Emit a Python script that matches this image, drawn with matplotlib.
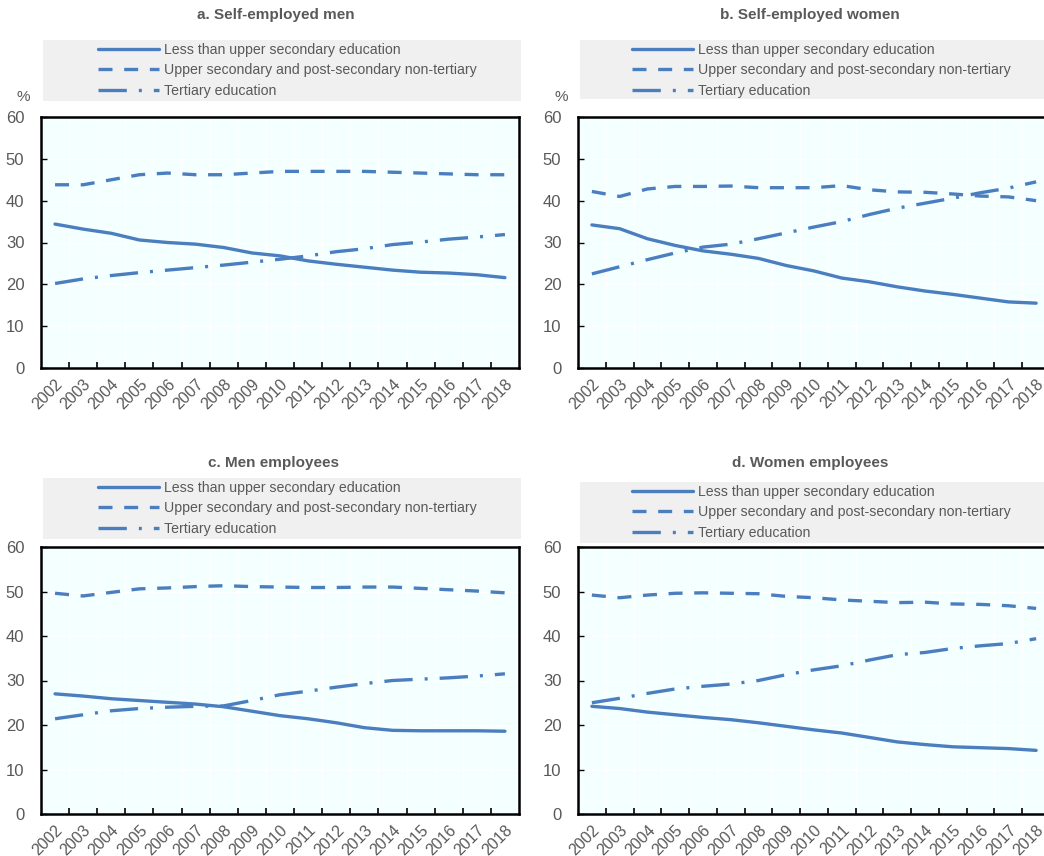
import numpy as np
import matplotlib
matplotlib.use("Agg")
import matplotlib.pyplot as plt

plt.rcParams["font.family"] = ["Liberation Sans", "DejaVu Sans"]

YEARS = [str(y) for y in range(2002, 2019)]

SERIES_LABELS = [
  "Less than upper secondary education",
  "Upper secondary and post-secondary non-tertiary",
  "Tertiary education",
]

# a. Self-employed men
SE_MEN_LOW = [34.4, 33.2, 32.2, 30.6, 30.0, 29.6, 28.8, 27.5, 26.8, 25.6, 24.8, 24.1, 23.4, 22.9, 22.7, 22.3, 21.6]
SE_MEN_MID = [43.8, 43.8, 45.0, 46.2, 46.6, 46.2, 46.2, 46.6, 47.0, 47.0, 47.0, 47.0, 46.8, 46.6, 46.4, 46.2, 46.2]
SE_MEN_TER = [20.2, 21.3, 22.1, 22.8, 23.4, 24.0, 24.6, 25.3, 26.0, 26.8, 27.8, 28.5, 29.5, 30.1, 30.8, 31.3, 31.9]

# b. Self-employed women
SE_WOMEN_LOW = [34.2, 33.3, 30.9, 29.3, 28.0, 27.2, 26.2, 24.5, 23.2, 21.5, 20.6, 19.4, 18.4, 17.6, 16.7, 15.8, 15.5]
SE_WOMEN_MID = [42.2, 41.0, 42.8, 43.4, 43.4, 43.5, 43.1, 43.1, 43.1, 43.6, 42.6, 42.1, 42.0, 41.6, 41.1, 40.9, 40.0]
SE_WOMEN_TER = [22.5, 24.2, 25.9, 27.5, 28.9, 29.6, 30.9, 32.3, 33.7, 35.0, 36.7, 38.2, 39.4, 40.6, 41.9, 43.0, 44.5]

# c. Men employees
EMP_MEN_LOW = [27.0, 26.5, 25.9, 25.5, 25.1, 24.7, 24.1, 23.1, 22.1, 21.4, 20.5, 19.4, 18.8, 18.7, 18.7, 18.7, 18.6]
EMP_MEN_MID = [49.6, 49.0, 49.8, 50.6, 50.8, 51.1, 51.3, 51.1, 51.0, 50.9, 50.9, 51.0, 51.0, 50.7, 50.4, 50.1, 49.7]
EMP_MEN_TER = [21.4, 22.3, 23.2, 23.7, 24.0, 24.2, 24.3, 25.5, 26.8, 27.6, 28.5, 29.3, 30.0, 30.3, 30.6, 31.0, 31.5]

# d. Women employees
EMP_WOMEN_LOW = [24.2, 23.7, 22.9, 22.3, 21.7, 21.2, 20.5, 19.7, 18.9, 18.2, 17.2, 16.2, 15.6, 15.1, 14.9, 14.7, 14.3]
EMP_WOMEN_MID = [49.2, 48.6, 49.2, 49.6, 49.7, 49.6, 49.5, 48.9, 48.6, 48.1, 47.8, 47.5, 47.6, 47.2, 47.1, 46.8, 46.2]
EMP_WOMEN_TER = [25.0, 26.0, 27.1, 28.1, 28.7, 29.2, 30.0, 31.3, 32.4, 33.3, 34.6, 35.8, 36.3, 37.2, 37.8, 38.3, 39.4]

LINE_COLOR = "#4A7EBF"
PLOT_BG = "#F4FFFF"
LEGEND_BG = "#F0F0F0"
TEXT_GRAY = "#595959"
LINE_WIDTH = 2.4
STYLES = ["-", (0, (4.2, 3.5)), (0, (8.5, 3.6, 0.9, 3.6))]

W, H = 1044, 856


def px_box(left, top, right, bottom):
  """Convert a pixel box (top-left origin) into figure-fraction rect."""
  return [left / W, 1 - bottom / H, (right - left) / W, (bottom - top) / H]


# Each panel: title + centre, axes box, legend strip box, legend x start, "%" label spot
PANELS = [
  dict(title="a. Self-employed men", tx=276, ty=15,
       axes=(41, 117, 519, 368), legend=(43, 40, 521, 101), lx=95,
       pct=(23, 97), data=(SE_MEN_LOW, SE_MEN_MID, SE_MEN_TER)),
  dict(title="b. Self-employed women", tx=810, ty=15,
       axes=(578, 117, 1050, 368), legend=(580, 40, 1050, 99), lx=629,
       pct=(561, 97), data=(SE_WOMEN_LOW, SE_WOMEN_MID, SE_WOMEN_TER)),
  dict(title="c. Men employees", tx=274, ty=463,
       axes=(41, 547, 519, 814), legend=(43, 478, 521, 539), lx=95,
       pct=None, data=(EMP_MEN_LOW, EMP_MEN_MID, EMP_MEN_TER)),
  dict(title="d. Women employees", tx=810, ty=463,
       axes=(578, 547, 1050, 814), legend=(580, 482, 1050, 543), lx=629,
       pct=None, data=(EMP_WOMEN_LOW, EMP_WOMEN_MID, EMP_WOMEN_TER)),
]


def draw_panel(fig, p):
  x = np.arange(len(YEARS))

  # grey legend strip above the plot
  lax = fig.add_axes(px_box(*p["legend"]))
  lax.set_facecolor(LEGEND_BG)
  lax.set_xticks([])
  lax.set_yticks([])
  for s in lax.spines.values():
    s.set_visible(False)

  ax = fig.add_axes(px_box(*p["axes"]))
  ax.set_facecolor(PLOT_BG)
  handles = []
  for vals, ls, label in zip(p["data"], STYLES, SERIES_LABELS):
    (ln,) = ax.plot(x, vals, color=LINE_COLOR, linewidth=LINE_WIDTH, linestyle=ls,
                    label=label, solid_capstyle="round", dash_capstyle="butt")
    handles.append(ln)

  ax.set_xlim(-0.5, len(YEARS) - 0.5)
  ax.set_ylim(0, 60)
  ax.set_yticks(np.arange(0, 61, 10))
  # tick marks sit between the years, labels sit on the years
  ax.set_xticks(np.arange(0.5, len(YEARS) - 1, 1.0))
  ax.set_xticklabels([])
  ax.set_xticks(x, minor=True)
  ax.set_xticklabels(YEARS, minor=True, rotation=45, ha="right", va="top",
                     rotation_mode="anchor")
  ax.tick_params(axis="x", which="major", direction="in", length=4, width=1.2, color="black")
  ax.tick_params(axis="x", which="minor", length=0, pad=6, labelsize=11.5, labelcolor=TEXT_GRAY)
  ax.tick_params(axis="y", direction="in", length=4, width=1.0, pad=12,
                 labelsize=12, labelcolor=TEXT_GRAY)
  ax.grid(True, which="major", color="white", linewidth=1.0)
  ax.set_axisbelow(True)
  for s in ax.spines.values():
    s.set_color("black")
    s.set_linewidth(1.8)

  lw_box = p["legend"][2] - p["legend"][0]
  lax.legend(handles, SERIES_LABELS, loc="upper left",
             bbox_to_anchor=((p["lx"] - p["legend"][0]) / lw_box, 1.0),
             frameon=False, fontsize=10.2, handlelength=4.3, handletextpad=0.35,
             labelspacing=0.44, borderpad=0.22, borderaxespad=0.0, labelcolor=TEXT_GRAY)

  fig.text(p["tx"] / W, 1 - p["ty"] / H, p["title"], ha="center", va="center",
           fontsize=11, fontweight="bold", color=TEXT_GRAY)
  if p["pct"]:
    fig.text(p["pct"][0] / W, 1 - p["pct"][1] / H, "%", ha="center", va="center",
             fontsize=11, color=TEXT_GRAY)


fig = plt.figure(figsize=(W / 100, H / 100), dpi=100)
for panel in PANELS:
  draw_panel(fig, panel)
fig.savefig("out.png", dpi=100, facecolor="white")
